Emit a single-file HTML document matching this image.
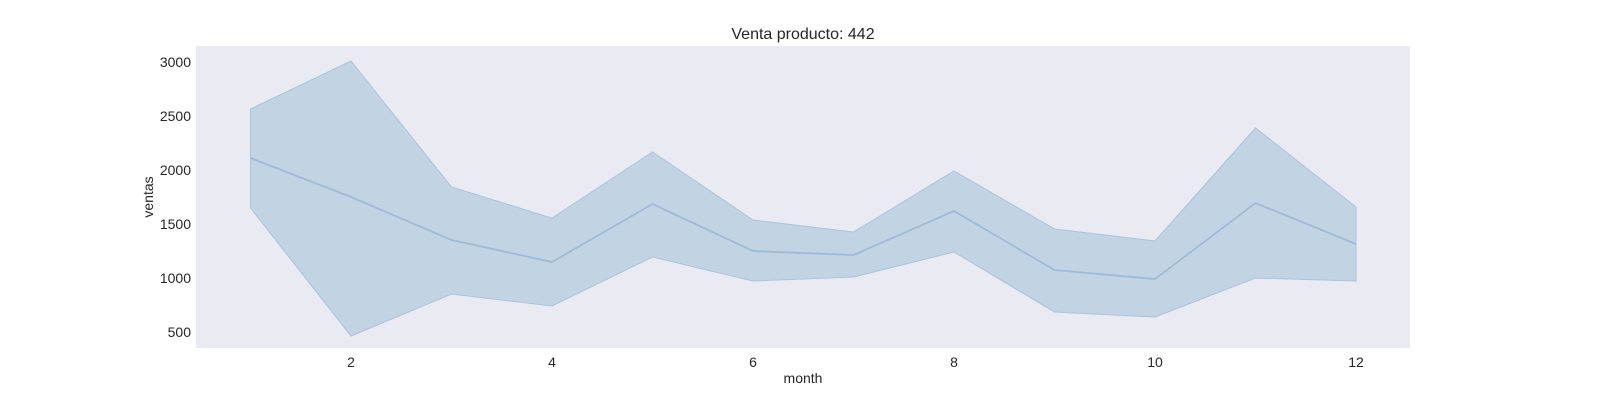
<!DOCTYPE html>
<html><head><meta charset="utf-8"><style>
body{margin:0;background:#fff;}
svg text{font-family:"Liberation Sans",Arial,sans-serif;fill:#262626;}
</style></head><body>
<svg id="chart" width="1600" height="400" viewBox="0 0 1600 400">
<rect x="196" y="46" width="1214" height="302" fill="#eaeaf2"/>
<text x="803" y="39" font-size="16" text-anchor="middle">Venta producto: 442</text>
<text x="803" y="383" font-size="14" text-anchor="middle">month</text>
<text x="153" y="197" font-size="14" text-anchor="middle" transform="rotate(-90 153 197)">ventas</text>
<g id="xt"></g>
<g id="yt"></g>
<g id="marks"></g>
</svg>
<script>
const months=[1,2,3,4,5,6,7,8,9,10,11,12];
const meanVals=[2111,1750,1352,1148,1685,1250,1213,1620,1074,990,1694,1315];
const upperVals=[2565,3009,1843,1555,2167,1537,1426,1991,1454,1343,2389,1657];
const lowerVals=[1648,463,852,741,1194,972,1009,1241,685,639,1000,972];
const xTicks=[2,4,6,8,10,12];
const yTicks=[500,1000,1500,2000,2500,3000];
const NS="http://www.w3.org/2000/svg";
const xs=m=>250.5+(m-1)*100.5;
const ys=v=>332-(v-500)*0.108;
const xt=document.getElementById('xt'),yt=document.getElementById('yt'),mk=document.getElementById('marks');
xTicks.forEach(t=>{const e=document.createElementNS(NS,'text');


e.setAttribute('x',xs(t));e.setAttribute('y',367);e.setAttribute('font-size','14');e.setAttribute('text-anchor','middle');e.textContent=t;xt.appendChild(e);});
yTicks.forEach(t=>{const e=document.createElementNS(NS,'text');


e.setAttribute('x',191);e.setAttribute('y',ys(t)+5);e.setAttribute('font-size','14');e.setAttribute('text-anchor','end');e.textContent=t;yt.appendChild(e);});
let d=months.map((m,i)=>(i?'L':'M')+xs(m)+','+ys(upperVals[i])).join('');
for(let i=months.length-1;i>=0;i--)d+='L'+xs(months[i])+','+ys(lowerVals[i]);
const band=document.createElementNS(NS,'path');


band.setAttribute('d',d+'Z');band.setAttribute('fill','#c2d3e4');band.setAttribute('stroke','#aac4de');band.setAttribute('stroke-width','1');mk.appendChild(band);
const line=document.createElementNS(NS,'path');


line.setAttribute('d',months.map((m,i)=>(i?'L':'M')+xs(m)+','+ys(meanVals[i])).join(''));
line.setAttribute('fill','none');line.setAttribute('stroke','#9dbcda');line.setAttribute('stroke-width','1.8');mk.appendChild(line);
</script>
</body></html>
